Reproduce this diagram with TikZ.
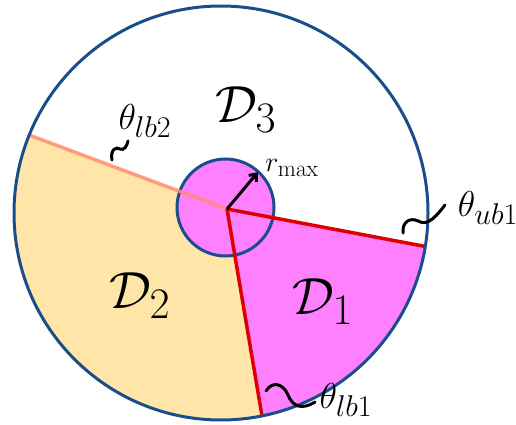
\documentclass[tikz,border=0pt]{standalone}
\usepackage{amsmath}
\usepackage{tikz}
\usetikzlibrary{arrows.meta, calc}
\definecolor{colring}{RGB}{26,78,138}
\definecolor{colmag}{RGB}{255,128,255}
\definecolor{colyel}{RGB}{255,230,168}
\definecolor{colred}{RGB}{221,0,0}
\definecolor{colsal}{RGB}{255,140,112}

\begin{document}
\begin{tikzpicture}[
  x=1pt, y=-1pt,
  ring/.style={draw=colring, line width=3pt},
  bound/.style={colred, line width=3.5pt},
  boundlow/.style={colsal, line width=3.5pt, opacity=0.85},
  region/.style={font=\Huge, scale=2.1, inner sep=0.5pt},
  blabel/.style={font=\Huge, scale=1.45, inner sep=0.5pt},
  rlabel/.style={font=\Huge, scale=1.13, inner sep=0.5pt},
  squig/.style={black, line width=3pt, line cap=round},
  rarrow/.style={-{Straight Barb[length=6pt, width=10pt]}, black, line width=3pt}
]
\useasboundingbox (0,0) rectangle (516,425);

\coordinate (C) at (221,213);
\coordinate (O) at (227,209);
\coordinate (ub1) at ($(O)+(10.7:215)$);
\coordinate (lb1) at ($(O)+(80.4:215)$);
\coordinate (lb2) at ($(O)+(200.5:215)$);

% Sectors, inner disc and bounds, cut at the outer circle
\begin{scope}
  \clip (C) circle[radius=207];
  \fill[colmag] (O) -- (ub1) -- ($(O)+(45:300)$) -- (lb1) -- cycle;
  \fill[colyel] (O) -- (lb1) -- ($(O)+(120:300)$) -- ($(O)+(160:300)$) -- (lb2) -- cycle;
  \filldraw[fill=colmag, ring] (225.5,207.5) circle[radius=48.5];
  \draw[boundlow] (O) -- (lb2);
  \draw[bound] (O) -- (ub1);
  \draw[bound] (O) -- (lb1);
\end{scope}
\draw[ring] (C) circle[radius=207];

% Radius arrow
\coordinate (rtip) at ($(O)+(-50:48)$);
\draw[rarrow] (O) -- (rtip);

% Labels
\node[region] (d3) at (246,110) {$\mathcal{D}_3$};
\node[region] (d2) at (140,296) {$\mathcal{D}_2$};
\node[region] (d1) at (323,302) {$\mathcal{D}_1$};
\node[rlabel] (rmax) at (292,168) {$r_{\max}$};
\node[blabel] (tlb2) at (145,121) {$\theta_{lb2}$};
\node[blabel] (tub1) at (488,208) {$\theta_{ub1}$};
\node[blabel] (tlb1) at (346,400) {$\theta_{lb1}$};

% Squiggles from bounds to labels
\coordinate (s2) at (112,160);
\coordinate (s1) at (403,233);
\coordinate (s0) at (266,391);
\draw[squig] (s2) .. controls (110,150) and (116,146) .. (120,149)
  .. controls (124,151) and (127,146) .. (128,141);
\draw[squig] (s1) .. controls (402,222) and (410,217) .. (418,221)
  .. controls (426,225) and (432,222) .. (445,205);
\draw[squig] (s0) .. controls (272,381) and (283,383) .. (288,395)
  .. controls (293,407) and (302,410) .. (315,402);
\end{tikzpicture}
\end{document}
